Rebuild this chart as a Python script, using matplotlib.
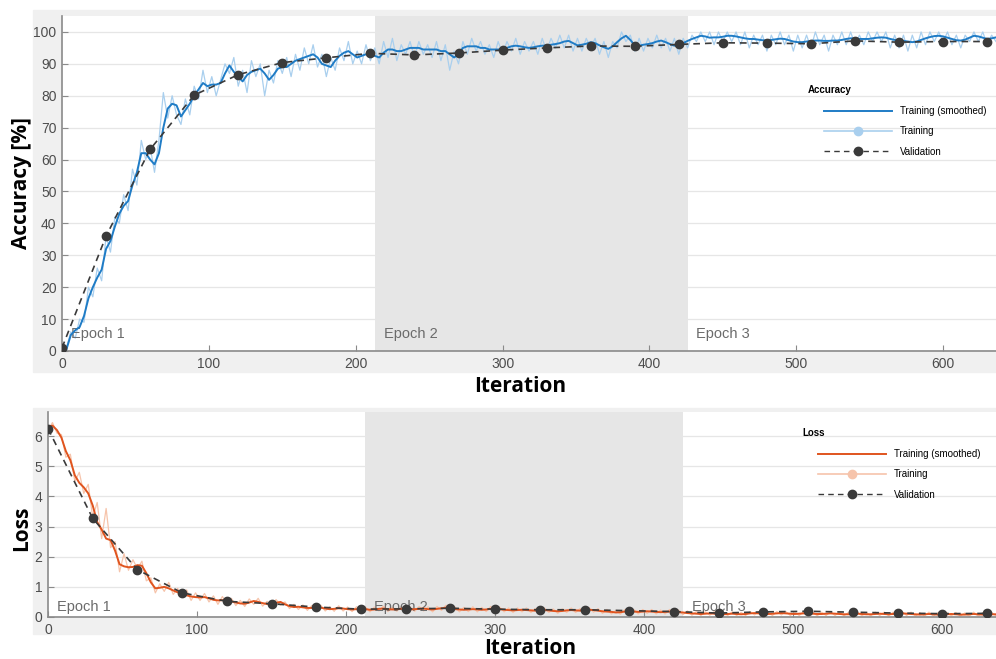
import numpy as np
import matplotlib
matplotlib.use("Agg")
import matplotlib.pyplot as plt
from matplotlib.lines import Line2D
from matplotlib.patches import Rectangle
import matplotlib.transforms as mtransforms

# iterations (one sample every 3 iterations)
iters = np.arange(0, 639, 3)
val_iters = [0, 30, 60, 90, 120, 150, 180, 210, 240, 270, 300, 330, 360, 390,
             420, 450, 480, 510, 540, 570, 600, 630]
epoch_starts = [0, 213, 426]
epoch_labels = ["Epoch 1", "Epoch 2", "Epoch 3"]

acc_smooth = [0, 0.5, 5, 6.5, 7.5, 11, 16.5, 20, 23, 25.5, 32, 34.5, 39, 43, 45.5, 47, 52, 56, 62, 62,
              60, 58.5, 62, 70, 76, 77.5, 77, 73.5, 75.5, 77.5, 80, 82, 84, 83, 83.5, 83.5, 84, 87, 89.5, 87.5,
              86, 84.5, 86.5, 87.5, 88, 88.5, 87, 85, 86.5, 88.5, 89, 89, 90, 91, 91.5, 92, 92.5, 93, 92, 90,
              89.5, 89, 91, 92.5, 93.5, 94, 93, 92, 92.5, 93, 93, 92.5, 92, 93.5, 94.5, 94.5, 94, 94, 94.5, 95,
              95, 95, 94.5, 94.5, 94.5, 94.5, 94, 94, 93, 92, 93, 95, 95.5, 95.5, 95.5, 95, 95, 94.5, 94.5, 94.5,
              94.7, 95, 95.5, 95.7, 95.5, 95.2, 95, 95.2, 95.5, 95.7, 95.7, 96, 96.2, 96.5, 97, 97.2, 96.5, 95.8, 96, 96.3,
              96.8, 96.5, 95.8, 95.2, 94.7, 95.5, 96.8, 98, 98.8, 97.5, 95.8, 95.7, 96, 96.2, 96.5, 97, 97.3, 96.8, 96.2, 95.7,
              96, 96.5, 97.2, 97.8, 98.3, 98.8, 98.6, 98.2, 98.3, 98.3, 98.5, 98.8, 98.8, 98.6, 98.3, 98, 97.8, 97.8, 97.6, 97.4,
              97.3, 97.5, 97.7, 97.9, 97.8, 97.4, 97.0, 96.8, 96.8, 97, 97.2, 97.3, 97.3, 97.2, 97.2, 97.3, 97.3, 97.5, 97.8, 98,
              98, 97.8, 97.8, 97.8, 98, 98.2, 98.3, 98.2, 97.8, 97.5, 97.3, 97.2, 97, 96.8, 97, 97.5, 98, 98.4, 98.7, 98.8,
              98.6, 98.2, 97.8, 97.4, 97.3, 97.6, 98.2, 98.8, 98.6, 98.2, 97.8, 98, 98.3]

acc_raw = [0, 1, 6, 4, 10, 9, 20, 17, 26, 22, 36, 31, 42, 40, 49, 44, 57, 52, 66, 60,
           64, 56, 66, 81, 73, 80, 74, 71, 79, 74, 83, 79, 88, 81, 86, 80, 85, 90, 87, 92,
           83, 88, 81, 91, 86, 90, 80, 88, 84, 91, 87, 92, 86, 93, 88, 95, 90, 96, 89, 93,
           86, 92, 88, 95, 91, 97, 90, 94, 90, 96, 91, 95, 90, 97, 92, 98, 91, 96, 93, 97,
           92, 97, 93, 96, 92, 97, 91, 96, 88, 94, 90, 97, 93, 98, 94, 97, 93, 96, 92, 97,
           93, 97, 94, 98, 93, 97, 94, 97, 93, 98, 94, 98, 95, 99, 95, 99, 94, 98, 94, 98,
           95, 98, 93, 97, 92, 97, 95, 100, 97, 99, 94, 98, 94, 98, 95, 99, 95, 98, 94, 98,
           93, 98, 95, 99, 97, 100, 97, 100, 96, 100, 97, 100, 97, 100, 96, 100, 95, 99, 96, 99,
           94, 99, 96, 100, 96, 99, 94, 99, 95, 99, 95, 100, 96, 99, 94, 99, 96, 100, 96, 100,
           96, 99, 96, 100, 97, 100, 97, 100, 95, 99, 95, 99, 94, 99, 95, 100, 96, 100, 97, 100,
           97, 100, 96, 99, 95, 99, 97, 100, 97, 100, 96, 99, 97]

acc_val = [1, 36, 63.2, 80.2, 86.6, 90.4, 91.9, 93.3, 92.8, 93.4, 94.3, 95, 95.6, 95.5,
           96.1, 96.6, 96.5, 96.3, 97.2, 96.8, 97, 97]

loss_smooth = [6.3, 6.35, 6.2, 5.95, 5.5, 5.2, 4.7, 4.45, 4.3, 4.1, 3.7, 3.15, 2.9, 2.6, 2.55, 2.2, 1.75, 1.68, 1.65, 1.66,
               1.72, 1.7, 1.45, 1.15, 0.95, 0.97, 1.0, 0.95, 0.88, 0.82, 0.77, 0.72, 0.68, 0.66, 0.65, 0.66, 0.62, 0.57, 0.55, 0.56,
               0.54, 0.52, 0.48, 0.45, 0.44, 0.48, 0.53, 0.5, 0.46, 0.43, 0.44, 0.47, 0.5, 0.42, 0.36, 0.33, 0.34, 0.32, 0.3, 0.3,
               0.32, 0.31, 0.28, 0.26, 0.27, 0.29, 0.28, 0.26, 0.25, 0.26, 0.27, 0.26, 0.24, 0.25, 0.27, 0.28, 0.26, 0.25, 0.26, 0.27,
               0.26, 0.25, 0.26, 0.27, 0.28, 0.26, 0.25, 0.27, 0.29, 0.31, 0.29, 0.26, 0.25, 0.24, 0.25, 0.26, 0.25, 0.24, 0.25, 0.27,
               0.28, 0.26, 0.24, 0.23, 0.22, 0.23, 0.24, 0.23, 0.22, 0.21, 0.22, 0.23, 0.22, 0.2, 0.19, 0.2, 0.22, 0.23, 0.22, 0.21,
               0.22, 0.24, 0.23, 0.21, 0.19, 0.18, 0.17, 0.15, 0.16, 0.18, 0.19, 0.18, 0.17, 0.18, 0.19, 0.18, 0.17, 0.16, 0.17, 0.18,
               0.17, 0.16, 0.15, 0.13, 0.12, 0.11, 0.1, 0.11, 0.12, 0.11, 0.1, 0.09, 0.1, 0.11, 0.1, 0.09, 0.1, 0.12, 0.13, 0.12,
               0.11, 0.1, 0.11, 0.12, 0.13, 0.12, 0.11, 0.1, 0.11, 0.12, 0.12, 0.11, 0.1, 0.1, 0.11, 0.12, 0.11, 0.1, 0.09, 0.09,
               0.1, 0.11, 0.1, 0.09, 0.09, 0.1, 0.11, 0.1, 0.09, 0.1, 0.11, 0.12, 0.11, 0.1, 0.09, 0.08, 0.09, 0.1, 0.09, 0.08,
               0.08, 0.09, 0.1, 0.09, 0.08, 0.08, 0.09, 0.1, 0.09, 0.08, 0.08, 0.09, 0.09]

loss_raw = [6.2, 6.45, 6.1, 6.05, 5.3, 5.4, 4.5, 4.8, 4.1, 4.4, 3.3, 3.8, 2.6, 3.6, 2.3, 2.5, 1.5, 2.1, 1.55, 1.9,
            1.6, 1.85, 1.2, 1.3, 0.8, 1.1, 0.85, 1.15, 0.75, 0.95, 0.65, 0.9, 0.55, 0.8, 0.55, 0.78, 0.5, 0.7, 0.42, 0.68,
            0.45, 0.62, 0.38, 0.55, 0.35, 0.6, 0.42, 0.62, 0.36, 0.52, 0.34, 0.58, 0.4, 0.5, 0.28, 0.42, 0.25, 0.4, 0.22, 0.38,
            0.24, 0.39, 0.2, 0.34, 0.19, 0.37, 0.2, 0.33, 0.18, 0.34, 0.19, 0.33, 0.17, 0.33, 0.2, 0.36, 0.18, 0.32, 0.19, 0.35,
            0.18, 0.33, 0.19, 0.35, 0.2, 0.34, 0.17, 0.35, 0.22, 0.39, 0.21, 0.34, 0.17, 0.32, 0.18, 0.34, 0.17, 0.32, 0.18, 0.35,
            0.2, 0.33, 0.17, 0.3, 0.15, 0.3, 0.17, 0.3, 0.15, 0.28, 0.15, 0.3, 0.15, 0.27, 0.12, 0.27, 0.15, 0.3, 0.15, 0.28,
            0.15, 0.31, 0.16, 0.28, 0.12, 0.25, 0.1, 0.22, 0.09, 0.25, 0.12, 0.25, 0.1, 0.25, 0.12, 0.25, 0.1, 0.23, 0.1, 0.25,
            0.1, 0.23, 0.08, 0.2, 0.06, 0.18, 0.05, 0.17, 0.06, 0.18, 0.05, 0.15, 0.05, 0.17, 0.05, 0.15, 0.05, 0.18, 0.07, 0.18,
            0.05, 0.16, 0.05, 0.18, 0.07, 0.18, 0.05, 0.16, 0.05, 0.18, 0.06, 0.17, 0.04, 0.16, 0.05, 0.18, 0.05, 0.16, 0.04, 0.15,
            0.04, 0.17, 0.04, 0.15, 0.04, 0.16, 0.05, 0.16, 0.04, 0.16, 0.05, 0.18, 0.05, 0.16, 0.03, 0.14, 0.03, 0.16, 0.03, 0.14,
            0.03, 0.15, 0.04, 0.15, 0.03, 0.13, 0.03, 0.16, 0.03, 0.14, 0.03, 0.15, 0.04]

loss_val = [6.25, 3.27, 1.57, 0.80, 0.52, 0.44, 0.33, 0.26, 0.27, 0.29, 0.26, 0.24, 0.24, 0.21,
            0.18, 0.13, 0.17, 0.19, 0.16, 0.13, 0.11, 0.12]

W, H = 996, 659
BLUE = "#1f7cc6"
BLUE_LIGHT = "#a9cfee"
ORANGE = "#e0541e"
ORANGE_LIGHT = "#f6c4ab"
VAL = "#3a3a3a"

plt.rcParams["font.family"] = ["Liberation Sans", "DejaVu Sans"]


def px_box(left, top, right, bottom):
    return [left / W, 1 - bottom / H, (right - left) / W, (bottom - top) / H]


fig = plt.figure(figsize=(W / 100, H / 100), dpi=100)

# grey panels behind each chart
for (l, t, r, b) in [(33, 10, 996, 372), (33, 408, 996, 634)]:
    fig.patches.append(Rectangle((l / W, 1 - b / H), (r - l) / W, (b - t) / H,
                                 transform=fig.transFigure, color="#f0f0f0", zorder=-5))

ax1 = fig.add_axes(px_box(62, 16, 996, 351))
ax2 = fig.add_axes(px_box(48, 412, 996, 617))


def style(ax, ylim, yticks):
    ax.set_xlim(0, 636)
    ax.set_ylim(*ylim)
    ax.set_yticks(yticks)
    ax.set_xticks([0, 100, 200, 300, 400, 500, 600])
    ax.grid(axis="y", color="#e6e6e6", lw=0.9)
    ax.set_axisbelow(True)
    for s in ["top", "right"]:
        ax.spines[s].set_visible(False)
    for s in ["left", "bottom"]:
        ax.spines[s].set_color("#8a8a8a")
        ax.spines[s].set_linewidth(1.2)
    ax.tick_params(direction="in", length=4, width=0.8, color="#8a8a8a",
                   labelsize=10, labelcolor="#4d4d4d", pad=4)
    ax.axvspan(epoch_starts[1], epoch_starts[2], color="#e6e6e6", lw=0, zorder=0)
    tr = mtransforms.blended_transform_factory(ax.transData, ax.transAxes)
    for xs, lab in zip(epoch_starts, epoch_labels):
        ax.text(xs + 6, 0.05, lab, transform=tr, fontsize=10.5, color="#6b6b6b",
                ha="left", va="center", zorder=3)


style(ax1, (0, 105), range(0, 101, 10))
style(ax2, (0, 6.8), range(0, 7))

ax1.plot(iters, acc_raw, color=BLUE_LIGHT, lw=0.9, zorder=2)
ax1.plot(iters, acc_smooth, color=BLUE, lw=1.4, zorder=3)
ax1.plot(val_iters, acc_val, color=VAL, ls=(0, (4, 3)), lw=1.2, marker="o",
         ms=6, zorder=4)

ax2.plot(iters, loss_raw, color=ORANGE_LIGHT, lw=0.9, zorder=2)
ax2.plot(iters, loss_smooth, color=ORANGE, lw=1.4, zorder=3)
ax2.plot(val_iters, loss_val, color=VAL, ls=(0, (4, 3)), lw=1.2, marker="o",
         ms=6, zorder=4)


def legend(ax, axbox, title, c_dark, c_light, title_px, hand_px):
    # axbox: axes pixel box (left, top, right, bottom); positions in figure pixels
    l, t, r, b = axbox
    fx = lambda x: (x - l) / (r - l)
    fy = lambda y: (b - y) / (b - t)
    ax.text(fx(title_px[0]), fy(title_px[1]), title, transform=ax.transAxes,
            fontsize=7, fontweight="bold", ha="left", va="center", zorder=5)
    handles = [Line2D([], [], color=c_dark, lw=1.4),
               Line2D([], [], color=c_light, lw=1.2, marker="o", ms=6),
               Line2D([], [], color=VAL, lw=1.0, ls=(0, (4, 3)), marker="o", ms=6)]
    lg = ax.legend(handles, ["Training (smoothed)", "Training", "Validation"],
                   loc="upper left", bbox_to_anchor=(fx(hand_px[0]), fy(hand_px[1] - 3)),
                   frameon=False, fontsize=7, handlelength=7, handletextpad=0.8,
                   labelspacing=1.06, borderpad=0, borderaxespad=0, numpoints=1)
    lg.set_zorder(5)


legend(ax1, (62, 16, 996, 351), "Accuracy", BLUE, BLUE_LIGHT, (808, 90), (824, 109))
legend(ax2, (48, 412, 996, 617), "Loss", ORANGE, ORANGE_LIGHT, (802, 433), (818, 452))

lab = dict(family=["Open Sans", "DejaVu Sans"], weight="bold", fontsize=15, color="black")
fig.text(22 / W, 1 - 183 / H, "Accuracy [%]", rotation=90, ha="center", va="center", **lab)
fig.text(520 / W, 1 - 386 / H, "Iteration", ha="center", va="center", **lab)
fig.text(22 / W, 1 - 528 / H, "Loss", rotation=90, ha="center", va="center", **lab)
fig.text(530 / W, 1 - 648 / H, "Iteration", ha="center", va="center", **lab)

fig.savefig("out.png", dpi=100)
